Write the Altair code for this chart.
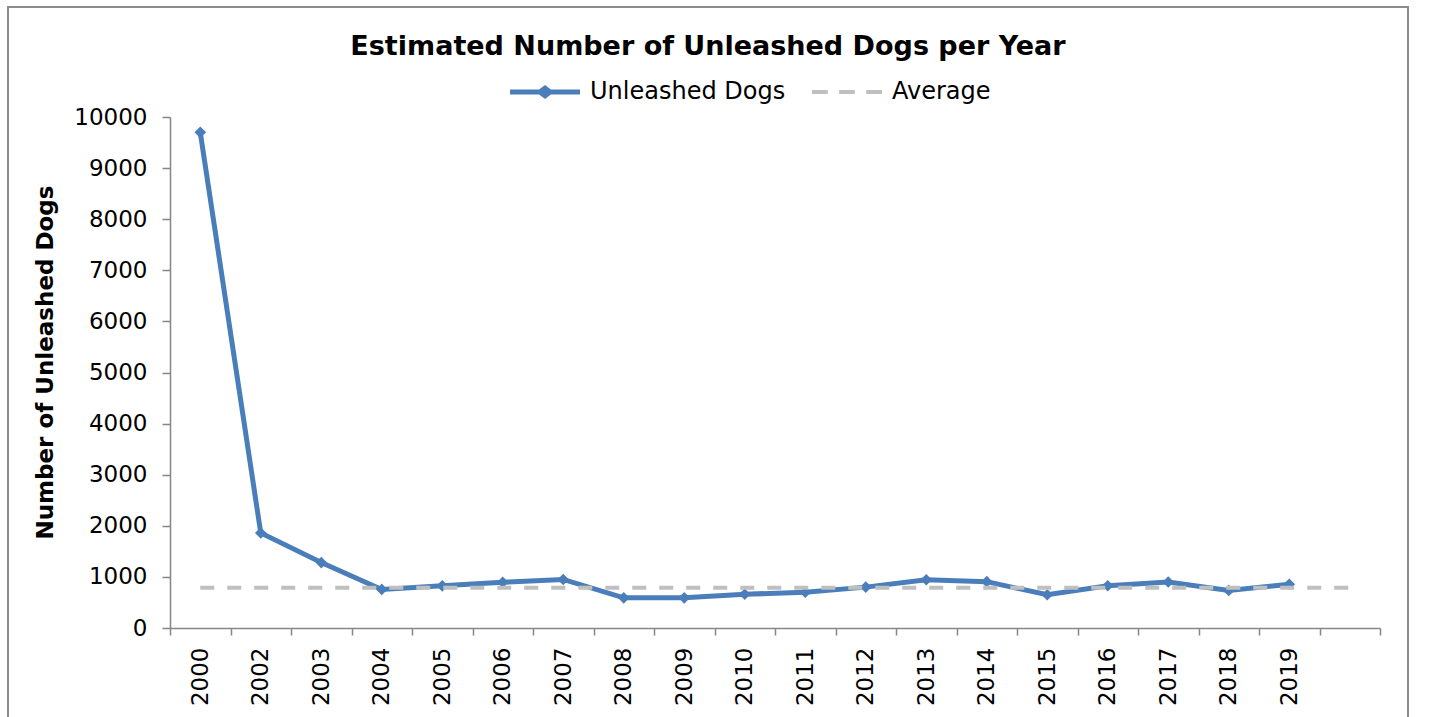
import altair as alt
import pandas as pd

# ---------------- data ----------------
years = ["2000", "2002", "2003", "2004", "2005", "2006", "2007", "2008", "2009", "2010",
         "2011", "2012", "2013", "2014", "2015", "2016", "2017", "2018", "2019"]
dogs = [9700, 1860, 1280, 755, 825, 895, 950, 590, 590, 660,
        700, 800, 945, 907, 650, 828, 900, 735, 855]
slot_labels = years + [" "]
average = [790, 790, 790, 790, 790, 790, 790, 790, 790, 790,
           790, 790, 790, 790, 790, 790, 790, 790, 790, 790]
y_ticks = [0, 1000, 2000, 3000, 4000, 5000, 6000, 7000, 8000, 9000, 10000]
series_names = ["Unleashed Dogs", "Average"]

BLUE = "#4A7EBB"
GRAY = "#BFBFBF"
AXIS_GRAY = "#868686"
FONT = "DejaVu Sans"

dogs_df = pd.DataFrame({"year": years, "dogs": dogs})
avg_df = pd.DataFrame({"year": slot_labels, "avg": average})
legend_df = pd.DataFrame({"series": series_names})
frame_df = pd.DataFrame({"k": [0]})

x_scale = alt.Scale(type="band", domain=slot_labels, paddingInner=0, paddingOuter=0)
y_scale = alt.Scale(domain=[0, 10000], nice=False)

x_axis = alt.Axis(
    labelAngle=-90,
    labelFontSize=23,
    labelFont=FONT,
    labelColor="black",
    labelPadding=12,
    labelOverlap=False,
    labelLimit=0,
    tickBand="extent",
    tickSize=7,
    tickWidth=1.5,
    tickColor=AXIS_GRAY,
    domainColor=AXIS_GRAY,
    domainWidth=1.5,
    grid=False,
    title=None,
)

y_axis = alt.Axis(
    values=y_ticks,
    format="d",
    labelFontSize=23,
    labelFont=FONT,
    labelColor="black",
    labelPadding=15,
    tickSize=8,
    tickWidth=1.5,
    tickColor=AXIS_GRAY,
    domainColor=AXIS_GRAY,
    domainWidth=1.5,
    grid=False,
    title="Number of Unleashed Dogs",
    titleFont=FONT,
    titleFontSize=23,
    titleFontWeight="bold",
    titleColor="black",
    titlePadding=16,
    titleY=245,
)

dogs_line = alt.Chart(dogs_df).mark_line(
    color=BLUE, strokeWidth=5,
    point=alt.OverlayMarkDef(shape="diamond", size=135, filled=True, color=BLUE),
).encode(
    x=alt.X("year:N", scale=x_scale, axis=x_axis, sort=slot_labels),
    y=alt.Y("dogs:Q", scale=y_scale, axis=y_axis),
)

avg_line = alt.Chart(avg_df).mark_line(
    color=GRAY, strokeWidth=4, strokeDash=[14, 13]
).encode(
    x=alt.X("year:N", scale=x_scale, sort=slot_labels),
    y=alt.Y("avg:Q", scale=y_scale),
)

dog_symbol = ("M-1,-0.07L-0.17,-0.07L0,-0.2L0.17,-0.07L1,-0.07L1,0.07"
              "L0.17,0.07L0,0.2L-0.17,0.07L-1,0.07Z")
avg_symbol = ("M-1,-0.055L-0.55,-0.055L-0.55,0.055L-1,0.055Z"
              "M-0.225,-0.055L0.225,-0.055L0.225,0.055L-0.225,0.055Z"
              "M0.55,-0.055L1,-0.055L1,0.055L0.55,0.055Z")

legend_def = alt.Legend(
    title=None,
    orient="none",
    legendX=340,
    legendY=-60,
    direction="horizontal",
    symbolSize=4900,
    symbolStrokeWidth=0,
    labelFont=FONT,
    labelFontSize=24,
    labelColor="black",
    labelOffset=10,
    labelLimit=0,
    columnPadding=26,
)

legend_layer = alt.Chart(legend_df).transform_filter("false").mark_point(
    filled=True, opacity=1
).encode(
    color=alt.Color("series:N", scale=alt.Scale(domain=series_names, range=[BLUE, GRAY]),
                    legend=legend_def),
    shape=alt.Shape("series:N", scale=alt.Scale(domain=series_names, range=[dog_symbol, avg_symbol]),
                    legend=legend_def),
)

frame = alt.Chart(frame_df).mark_rect(
    filled=False, stroke="#8C8C8C", strokeWidth=2
).encode(
    x=alt.value(-162), x2=alt.value(1238), y=alt.value(-110), y2=alt.value(700)
)

chart = alt.layer(frame, dogs_line, avg_line, legend_layer).properties(
    width=1210,
    height=511,
    background="white",
    autosize=alt.AutoSizeParams(type="none"),
    padding={"left": 170, "top": 117, "right": 50, "bottom": 89},
    title=alt.TitleParams(
        text="Estimated Number of Unleashed Dogs per Year",
        font=FONT, fontSize=27, fontWeight="bold", color="black",
        anchor="middle", frame="group", dx=-67, offset=-55,
    ),
).configure_view(stroke=None)

chart.save("out.html", embed_options={"renderer": "svg", "actions": False})
